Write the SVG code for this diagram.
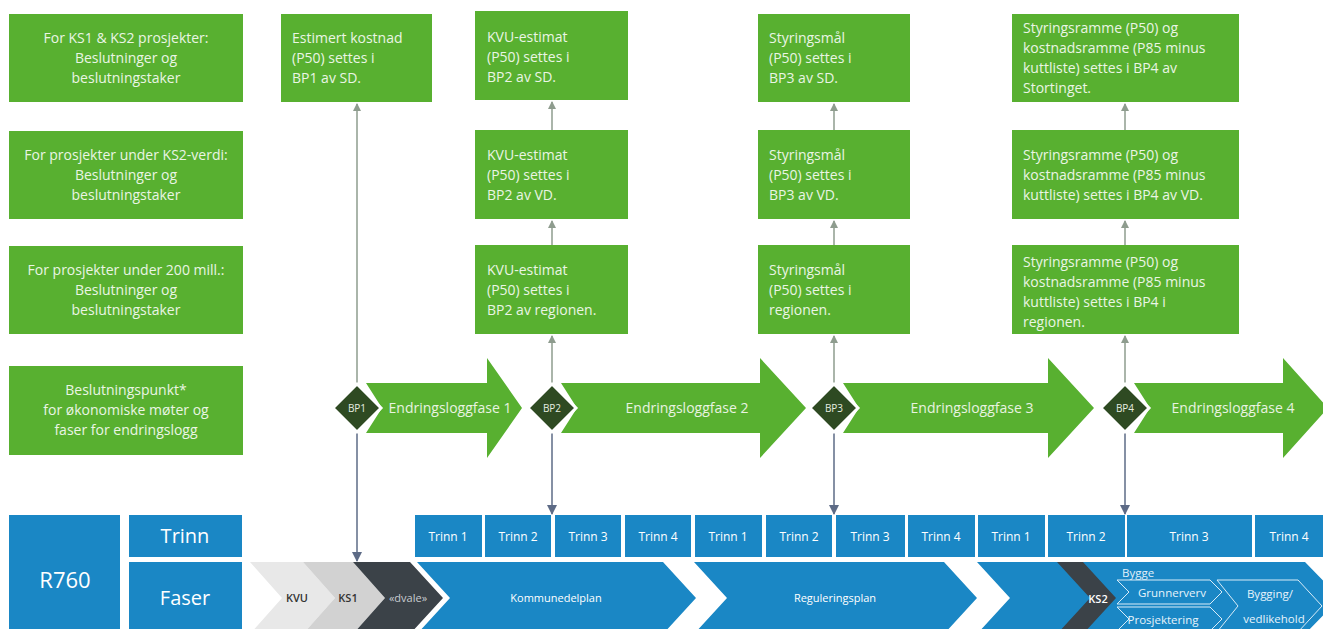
<svg xmlns="http://www.w3.org/2000/svg" width="1323" height="629" viewBox="0 0 1323 629">
<style>
.gb{fill:#58b030}
.gt{font-family:"Open Sans","Liberation Sans",sans-serif;font-size:14px;fill:#eaf5e4}
.gc{text-anchor:middle}
.dm{fill:#2e4a22;stroke:#ffffff;stroke-width:3}
.dl{font-family:"Open Sans","Liberation Sans",sans-serif;font-size:10px;fill:#e6eee0;text-anchor:middle}
.ar{fill:#58b030}
.at{font-family:"Open Sans","Liberation Sans",sans-serif;font-size:14px;fill:#e8f3e0;text-anchor:middle}
.bl{fill:#1a87c5}
.bt{font-family:"Open Sans","Liberation Sans",sans-serif;fill:#ffffff;text-anchor:middle}
.ct{font-family:"Open Sans","Liberation Sans",sans-serif;font-size:11px;text-anchor:middle}
.it{font-family:"Open Sans","Liberation Sans",sans-serif;font-size:11.5px;text-anchor:middle;fill:#e6f3fb}
.up{stroke:#8e9c8e;stroke-width:1.5;fill:none;marker-end:url(#hg)}
.dn{stroke:#5d6b86;stroke-width:1.5;fill:none;marker-end:url(#hb)}
.ol{fill:none;stroke:#d8ecf8;stroke-width:1}
</style>
<defs>
<marker id="hg" markerWidth="8" markerHeight="8" refX="7" refY="4" orient="auto" markerUnits="userSpaceOnUse"><path d="M0,0 L8,4 L0,8 z" fill="#8e9c8e"/></marker>
<marker id="hb" markerWidth="10" markerHeight="10" refX="9" refY="5" orient="auto" markerUnits="userSpaceOnUse"><path d="M0,0 L10,5 L0,10 z" fill="#5d6b86"/></marker>
</defs>
<rect width="1323" height="629" fill="#ffffff"/>

<g id="legend1"><rect class="gb" x="9" y="14" width="234" height="88"/>
<text class="gt gc" x="126" y="43">For KS1 &amp; KS2 prosjekter:</text><text class="gt gc" x="126" y="63">Beslutninger og</text><text class="gt gc" x="126" y="83">beslutningstaker</text></g>
<g id="legend2"><rect class="gb" x="9" y="131" width="234" height="88"/>
<text class="gt gc" x="126" y="160">For prosjekter under KS2-verdi:</text><text class="gt gc" x="126" y="180">Beslutninger og</text><text class="gt gc" x="126" y="200">beslutningstaker</text></g>
<g id="legend3"><rect class="gb" x="9" y="246" width="234" height="88"/>
<text class="gt gc" x="126" y="275">For prosjekter under 200 mill.:</text><text class="gt gc" x="126" y="295">Beslutninger og</text><text class="gt gc" x="126" y="315">beslutningstaker</text></g>
<g id="legend4"><rect class="gb" x="9" y="366" width="234" height="89"/>
<text class="gt gc" x="126" y="395">Beslutningspunkt*</text><text class="gt gc" x="126" y="415">for økonomiske møter og</text><text class="gt gc" x="126" y="435">faser for endringslogg</text></g>

<g id="bp1-sd"><rect class="gb" x="281" y="14" width="151" height="88"/>
<text class="gt" x="292" y="43">Estimert kostnad</text><text class="gt" x="292" y="63">(P50) settes i</text><text class="gt" x="292" y="83">BP1 av SD.</text></g>

<g id="bp2-sd"><rect class="gb" x="475" y="11" width="153" height="89"/>
<text class="gt" x="487" y="42">KVU-estimat</text><text class="gt" x="487" y="62">(P50) settes i</text><text class="gt" x="487" y="82">BP2 av SD.</text></g>
<g id="bp2-vd"><rect class="gb" x="475" y="130" width="153" height="89"/>
<text class="gt" x="487" y="160">KVU-estimat</text><text class="gt" x="487" y="180">(P50) settes i</text><text class="gt" x="487" y="200">BP2 av VD.</text></g>
<g id="bp2-reg"><rect class="gb" x="475" y="245" width="153" height="89"/>
<text class="gt" x="487" y="275">KVU-estimat</text><text class="gt" x="487" y="295">(P50) settes i</text><text class="gt" x="487" y="315">BP2 av regionen.</text></g>

<g id="bp3-sd"><rect class="gb" x="758" y="14" width="152" height="88"/>
<text class="gt" x="769" y="43">Styringsmål</text><text class="gt" x="769" y="63">(P50) settes i</text><text class="gt" x="769" y="83">BP3 av SD.</text></g>
<g id="bp3-vd"><rect class="gb" x="758" y="130" width="152" height="89"/>
<text class="gt" x="769" y="160">Styringsmål</text><text class="gt" x="769" y="180">(P50) settes i</text><text class="gt" x="769" y="200">BP3 av VD.</text></g>
<g id="bp3-reg"><rect class="gb" x="758" y="245" width="152" height="89"/>
<text class="gt" x="769" y="275">Styringsmål</text><text class="gt" x="769" y="295">(P50) settes i</text><text class="gt" x="769" y="315">regionen.</text></g>

<g id="bp4-st"><rect class="gb" x="1012" y="14" width="227" height="88"/>
<text class="gt" x="1023" y="33">Styringsramme (P50) og</text><text class="gt" x="1023" y="53">kostnadsramme (P85 minus</text><text class="gt" x="1023" y="73">kuttliste) settes i BP4 av</text><text class="gt" x="1023" y="93">Stortinget.</text></g>
<g id="bp4-vd"><rect class="gb" x="1012" y="130" width="227" height="89"/>
<text class="gt" x="1023" y="160">Styringsramme (P50) og</text><text class="gt" x="1023" y="180">kostnadsramme (P85 minus</text><text class="gt" x="1023" y="200">kuttliste) settes i BP4 av VD.</text></g>
<g id="bp4-reg"><rect class="gb" x="1012" y="245" width="227" height="89"/>
<text class="gt" x="1023" y="267">Styringsramme (P50) og</text><text class="gt" x="1023" y="287">kostnadsramme (P85 minus</text><text class="gt" x="1023" y="307">kuttliste) settes i BP4 i</text><text class="gt" x="1023" y="327">regionen.</text></g>

<g id="connectors">
<line class="up" x1="357" y1="384" x2="357" y2="104"/>
<line class="dn" x1="357" y1="432" x2="357" y2="561"/>
<line class="up" x1="552" y1="384" x2="552" y2="336"/>
<line class="up" x1="552" y1="245" x2="552" y2="221"/>
<line class="up" x1="552" y1="130" x2="552" y2="102"/>
<line class="dn" x1="552" y1="432" x2="552" y2="514"/>
<line class="up" x1="834" y1="384" x2="834" y2="336"/>
<line class="up" x1="834" y1="245" x2="834" y2="221"/>
<line class="up" x1="834" y1="130" x2="834" y2="104"/>
<line class="dn" x1="834" y1="432" x2="834" y2="514"/>
<line class="up" x1="1125" y1="384" x2="1125" y2="336"/>
<line class="up" x1="1125" y1="245" x2="1125" y2="221"/>
<line class="up" x1="1125" y1="130" x2="1125" y2="104"/>
<line class="dn" x1="1125" y1="432" x2="1125" y2="514"/>
</g>

<g id="fase1"><polygon class="ar" points="366,383 487,383 487,358 522,408 487,458 487,433 366,433 382,408"/><text class="at" x="450" y="413">Endringsloggfase 1</text></g>
<g id="fase2"><polygon class="ar" points="561,383 760,383 760,358 806,408 760,458 760,433 561,433 577,408"/><text class="at" x="687" y="413">Endringsloggfase 2</text></g>
<g id="fase3"><polygon class="ar" points="843,383 1048,383 1048,358 1094,408 1048,458 1048,433 843,433 859,408"/><text class="at" x="972" y="413">Endringsloggfase 3</text></g>
<g id="fase4"><polygon class="ar" points="1134,383 1283,383 1283,358 1328,408 1283,458 1283,433 1134,433 1150,408"/><text class="at" x="1233" y="413">Endringsloggfase 4</text></g>

<g id="bp1"><polygon class="dm" points="357,384 381,408 357,432 333,408"/><text class="dl" x="357" y="412">BP1</text></g>
<g id="bp2"><polygon class="dm" points="552,384 576,408 552,432 528,408"/><text class="dl" x="552" y="412">BP2</text></g>
<g id="bp3"><polygon class="dm" points="834,384 858,408 834,432 810,408"/><text class="dl" x="834" y="412">BP3</text></g>
<g id="bp4"><polygon class="dm" points="1125,384 1149,408 1125,432 1101,408"/><text class="dl" x="1125" y="412">BP4</text></g>

<g id="r760"><rect class="bl" x="9" y="515" width="111" height="114"/><text class="bt" x="65" y="588" font-size="22">R760</text></g>
<g id="trinn-head"><rect class="bl" x="129" y="515" width="113" height="42"/><text class="bt" x="185" y="543" font-size="20">Trinn</text></g>
<g id="faser-head"><rect class="bl" x="129" y="562" width="113" height="67"/><text class="bt" x="185" y="605" font-size="20">Faser</text></g>

<g id="trinn-row">
<rect class="bl" x="415" y="515" width="67" height="42"/><text class="bt" x="448" y="541" font-size="12">Trinn 1</text>
<rect class="bl" x="485" y="515" width="66" height="42"/><text class="bt" x="518" y="541" font-size="12">Trinn 2</text>
<rect class="bl" x="555" y="515" width="66" height="42"/><text class="bt" x="588" y="541" font-size="12">Trinn 3</text>
<rect class="bl" x="625" y="515" width="66" height="42"/><text class="bt" x="658" y="541" font-size="12">Trinn 4</text>
<rect class="bl" x="695" y="515" width="67" height="42"/><text class="bt" x="728" y="541" font-size="12">Trinn 1</text>
<rect class="bl" x="766" y="515" width="66" height="42"/><text class="bt" x="799" y="541" font-size="12">Trinn 2</text>
<rect class="bl" x="836" y="515" width="69" height="42"/><text class="bt" x="870" y="541" font-size="12">Trinn 3</text>
<rect class="bl" x="908" y="515" width="67" height="42"/><text class="bt" x="941" y="541" font-size="12">Trinn 4</text>
<rect class="bl" x="978" y="515" width="67" height="42"/><text class="bt" x="1011" y="541" font-size="12">Trinn 1</text>
<rect class="bl" x="1048" y="515" width="77" height="42"/><text class="bt" x="1086" y="541" font-size="12">Trinn 2</text>
<rect class="bl" x="1127" y="515" width="125" height="42"/><text class="bt" x="1189" y="541" font-size="12">Trinn 3</text>
<rect class="bl" x="1255" y="515" width="68" height="42"/><text class="bt" x="1289" y="541" font-size="12">Trinn 4</text>
</g>

<g id="kvu"><polygon fill="#e8e8e8" points="250,562 303,562 335,598 303,634 250,634 282,598"/><text class="ct" x="297" y="602" fill="#333" font-size="10.5" font-weight="600">KVU</text></g>
<g id="ks1"><polygon fill="#d2d2d2" points="303,562 353,562 385,598 353,634 303,634 335,598"/><text class="ct" x="348" y="602" fill="#333" font-size="10.5" font-weight="600">KS1</text></g>
<g id="dvale"><polygon fill="#3b4248" points="353,562 410,562 443,598 410,634 353,634 385,598"/><text class="ct" x="408" y="602" fill="#c8ccd0" font-size="10">«dvale»</text></g>
<g id="kommunedelplan"><polygon class="bl" points="417,562 663,562 696,598 663,634 417,634 450,598"/><text class="ct" x="556" y="602" fill="#fff" font-size="12">Kommunedelplan</text></g>
<g id="reguleringsplan"><polygon class="bl" points="694,562 944,562 977,598 944,634 694,634 727,598"/><text class="ct" x="835" y="602" fill="#fff" font-size="12">Reguleringsplan</text></g>
<g id="bygge-fase"><polygon class="bl" points="977,562 1305,562 1340,598 1305,634 977,634 1010,598"/></g>
<g id="ks2"><polygon fill="#3b4248" points="1057,562 1083,562 1116,598 1083,634 1057,634 1090,598"/><text class="ct" x="1098" y="603" fill="#fff" font-weight="600">KS2</text></g>
<g id="bygge"><text font-family="Open Sans, Liberation Sans, sans-serif" font-size="11.5" fill="#e0f0fa" x="1122" y="577">Bygge</text></g>
<g id="grunnerverv"><polygon class="ol" points="1117,580 1210,580 1222,592 1210,604 1117,604 1129,592"/><text class="it" x="1172" y="597">Grunnerverv</text></g>
<g id="prosjektering"><polygon class="ol" points="1117,607 1210,607 1222,619 1210,631 1117,631 1129,619"/><text class="it" x="1163" y="624">Prosjektering</text></g>
<g id="bygging"><polygon class="ol" points="1217,580 1298,580 1322,606 1298,632 1217,632 1238,606"/><text class="it" x="1270" y="598">Bygging/</text><text class="it" x="1274" y="623">vedlikehold</text></g>
</svg>
